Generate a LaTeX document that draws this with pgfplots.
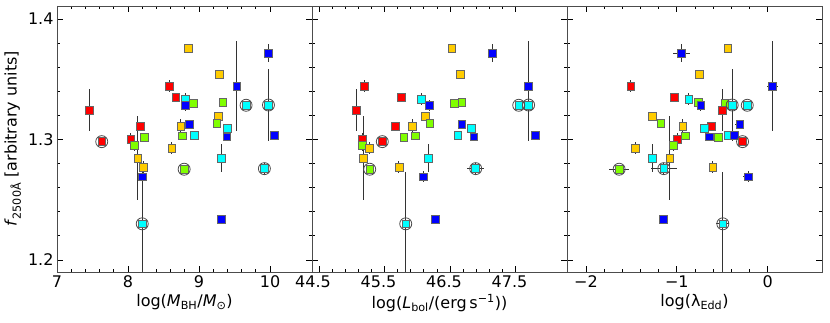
\documentclass[border=0pt]{standalone}
\usepackage{fontspec}
\setmainfont{DejaVu Sans}
\usepackage{pgfplots}
\usepackage{pgfplotstable}
\pgfplotsset{compat=1.18}

\definecolor{cR}{HTML}{FF0000}
\definecolor{cY}{HTML}{FFCC00}
\definecolor{cG}{HTML}{80FF00}
\definecolor{cC}{HTML}{00FFFF}
\definecolor{cB}{HTML}{0000FF}

% panel 1: log M_BH
\pgfplotstableread{
x ex y ey c o
8.845 0 1.376 0 Y 0
9.98 0 1.3715 0.0075 B 0
9.286 0 1.3544 0 Y 0
8.577 0 1.3444 0.005 R 0
9.53 0 1.3444 0.0375 B 0
8.672 0 1.335 0 R 0
8.81 0 1.3334 0.005 C 0
9.333 0 1.3309 0 G 0
8.92 0 1.330 0 G 0
8.81 0 1.3284 0.0045 B 0
9.662 0 1.3284 0 C 1
9.977 0 1.3286 0.030 C 1
7.455 0 1.3245 0.0174 R 0
9.27 0 1.3195 0 Y 0
9.249 0 1.3134 0 G 0
8.86 0 1.3123 0.004 B 0
8.17 0 1.311 0 R 0
8.742 0 1.3112 0.006 Y 0
9.399 0 1.3093 0 C 0
8.93 0 1.3035 0 C 0
10.056 0 1.3032 0 B 0
9.39 0 1.3023 0 B 0
8.765 0 1.303 0 G 0
8.225 0 1.3015 0 G 0
8.04 0 1.300 0.0055 R 0
7.63 0 1.2982 0 R 1
8.089 0 1.2952 0.0045 G 0
8.615 0 1.293 0.005 Y 0
8.137 0 1.2847 0.035 Y 0
9.314 0 1.2847 0.0116 C 0
8.216 0 1.2772 0.005 Y 0
9.92 0 1.2758 0.0045 C 1
8.79 0 1.2753 0 G 1
8.197 0 1.2691 0.0045 B 0
9.314 0 1.2338 0 B 0
8.2 0 1.230 0.043 C 1
}\tabM

% panel 2: log L_bol
\pgfplotstableread{
x ex y ey c o
46.526 0 1.376 0 Y 0
47.146 0 1.3715 0.0075 B 0
46.653 0 1.3544 0 Y 0
45.187 0 1.3444 0.005 R 0
47.695 0 1.3444 0.0375 B 0
45.762 0 1.335 0 R 0
46.057 0 1.3334 0.005 C 0
46.68 0 1.3309 0 G 0
46.56 0 1.330 0 G 0
46.184 0 1.3284 0.0045 B 0
47.549 0 1.3284 0 C 1
47.70 0 1.3286 0.030 C 1
45.065 0 1.3245 0.0174 R 0
46.118 0 1.3195 0 Y 0
46.19 0 1.3134 0 G 0
46.68 0 1.3123 0.004 B 0
45.66 0 1.311 0 R 0
45.924 0 1.3112 0.006 Y 0
46.82 0 1.3093 0 C 0
46.618 0 1.3035 0 C 0
47.80 0 1.3032 0 B 0
46.862 0 1.3023 0 B 0
45.97 0 1.303 0 G 0
45.793 0 1.3015 0 G 0
45.161 0 1.300 0.0055 R 0
45.466 0 1.2982 0 R 1
45.161 0 1.2952 0.0045 G 0
45.27 0 1.293 0.005 Y 0
45.177 0 1.2847 0.035 Y 0
46.164 0 1.2847 0.0116 C 0
45.72 0 1.2772 0.005 Y 0
46.892 0.13 1.2758 0.0045 C 1
45.274 0 1.2753 0 G 1
46.092 0 1.2691 0.0045 B 0
46.271 0 1.2338 0 B 0
45.824 0 1.230 0.043 C 1
}\tabL

% panel 3: log lambda_Edd
\pgfplotstableread{
x ex y ey c o
-0.438 0 1.376 0 Y 0
-0.948 0.09 1.3715 0.0075 B 0
-0.75 0 1.3544 0 Y 0
-1.507 0 1.3444 0.005 R 0
0.054 0.06 1.3444 0.0375 B 0
-1.025 0 1.335 0 R 0
-0.868 0 1.3334 0.005 C 0
-0.765 0 1.3309 0 G 0
-0.471 0 1.330 0 G 0
-0.736 0 1.3284 0.0045 B 0
-0.224 0 1.3284 0 C 1
-0.39 0 1.3286 0.030 C 1
-0.5 0 1.3245 0.0174 R 0
-1.268 0 1.3195 0 Y 0
-1.176 0 1.3134 0 G 0
-0.307 0.05 1.3123 0.004 B 0
-0.622 0 1.311 0 R 0
-0.934 0 1.3112 0.006 Y 0
-0.699 0 1.3093 0 C 0
-0.435 0 1.3035 0 C 0
-0.369 0 1.3032 0 B 0
-0.644 0 1.3023 0 B 0
-0.909 0 1.303 0 G 0
-0.545 0 1.3015 0 G 0
-0.997 0 1.300 0.0055 R 0
-0.276 0 1.2982 0 R 1
-1.036 0 1.2952 0.0045 G 0
-1.457 0 1.293 0.005 Y 0
-1.077 0 1.2847 0.035 Y 0
-1.268 0 1.2847 0.0116 C 0
-0.604 0 1.2772 0.005 Y 0
-1.143 0.14 1.2758 0.0045 C 1
-1.635 0.11 1.2753 0 G 1
-0.215 0.055 1.2691 0.0045 B 0
-1.152 0 1.2338 0 B 0
-0.493 0.07 1.230 0.043 C 1
}\tabE

\pgfplotsset{
  panel/.style={
    scale only axis, width=255pt, height=266pt, anchor=south west,
    ymin=1.19, ymax=1.4108, ytick={1.2,1.3,1.4}, minor y tick num=4,
    minor x tick num=4, tick align=inside,
    major tick length=6pt, minor tick length=3pt,
    every tick/.style={black, line width=0.8pt},
    axis line style={black!70, line width=0.9pt},
    font=\fontsize{16}{19}\selectfont,
  },
  ebars/.style={only marks, mark=none, forget plot,
    error bars/.cd, x dir=both, x explicit, y dir=both, y explicit,
    error mark=none, error bar style={black!80, line width=0.9pt}},
  squares/.style={scatter, only marks, scatter src=explicit symbolic,
    scatter/classes={
      R={mark=square*, draw=black!60, fill=cR},
      Y={mark=square*, draw=black!60, fill=cY},
      G={mark=square*, draw=black!60, fill=cG},
      C={mark=square*, draw=black!60, fill=cC},
      B={mark=square*, draw=black!60, fill=cB}},
    mark size=3.9pt, mark options={line width=0.6pt}},
  rings/.style={only marks, mark=o, mark size=6pt,
    mark options={draw=black!70, line width=0.8pt},
    restrict expr to domain={\thisrow{o}}{0.5:1.5}},
}

\begin{document}
\begin{tikzpicture}
\path[use as bounding box] (0,0) rectangle (830pt,323pt);

\begin{axis}[panel, at={(57pt,51pt)},
  xmin=7, xmax=10.59, xtick={7,8,9,10}, xticklabels={7,8,9,10},
  yticklabels={1.2,1.3,1.4},
  xlabel={log(\textit{M}\textsubscript{BH}/\textit{M}\textsubscript{⊙})},
  ylabel={\textit{f}\textsubscript{2500Å} [arbitrary units]}]
\addplot[ebars] table[x=x, y=y, x error=ex, y error=ey] {\tabM};
\addplot[squares] table[x=x, y=y, meta=c] {\tabM};
\addplot[rings] table[x=x, y=y] {\tabM};
\end{axis}

\begin{axis}[panel, at={(312pt,51pt)},
  xmin=44.393, xmax=48.286, xtick={44.5,45.5,46.5,47.5},
  xticklabels={44.5,45.5,46.5,47.5}, xticklabel style={xshift=-6pt},
  yticklabels={},
  xlabel={log(\textit{L}\textsubscript{bol}/(erg\,s\textsuperscript{−1}))}]
\addplot[ebars] table[x=x, y=y, x error=ex, y error=ey] {\tabL};
\addplot[squares] table[x=x, y=y, meta=c] {\tabL};
\addplot[rings] table[x=x, y=y] {\tabL};
\end{axis}

\begin{axis}[panel, at={(567pt,51pt)},
  xmin=-2.209, xmax=0.599, xtick={-2,-1,0}, xticklabels={−2,−1,0},
  yticklabels={},
  xlabel={log(λ\textsubscript{Edd})}]
\addplot[ebars] table[x=x, y=y, x error=ex, y error=ey] {\tabE};
\addplot[squares] table[x=x, y=y, meta=c] {\tabE};
\addplot[rings] table[x=x, y=y] {\tabE};
\end{axis}
\end{tikzpicture}
\end{document}
